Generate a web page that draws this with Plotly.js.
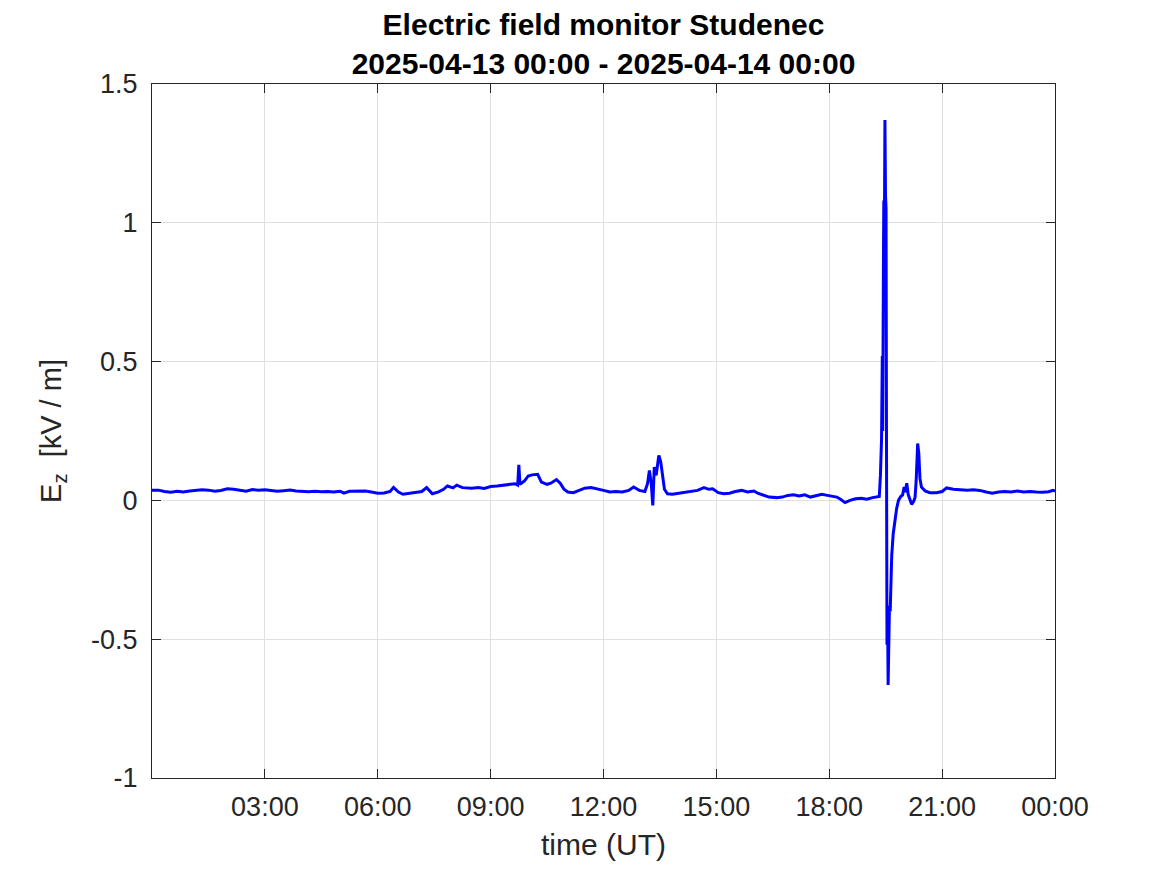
<!DOCTYPE html>
<html>
<head>
<meta charset="utf-8">
<script src="https://cdn.plot.ly/plotly-3.0.1.min.js"></script>
<style>html,body{margin:0;padding:0;background:#fff;}#chart{width:1167px;height:875px;}</style>
</head>
<body>
<div id="chart"></div>
<script>
// Time in hours (UT) since 2025-04-13 00:00
var hours = [
0.0,0.17,0.33,0.5,0.67,0.83,1.0,1.17,1.33,1.5,1.67,1.83,2.0,2.17,2.33,2.5,2.67,2.83,
3.0,3.17,3.33,3.5,3.67,3.83,4.0,4.17,4.33,4.5,4.67,4.83,5.0,5.1,5.25,5.5,5.67,5.83,
6.0,6.17,6.33,6.42,6.55,6.67,6.83,7.0,7.17,7.3,7.45,7.6,7.75,7.85,8.0,8.1,8.25,8.5,8.67,8.83,
9.0,9.17,9.33,9.5,9.65,9.72,9.75,9.78,9.9,10.0,10.1,10.25,10.35,10.5,10.6,10.75,10.85,10.95,
11.05,11.2,11.35,11.5,11.67,11.83,12.0,12.17,12.33,12.5,12.67,12.8,12.95,13.1,13.17,13.22,
13.27,13.31,13.35,13.4,13.47,13.52,13.57,13.62,13.7,13.83,14.0,14.17,14.33,14.5,14.67,14.8,
14.9,15.05,15.2,15.35,15.5,15.67,15.83,16.0,16.1,16.25,16.4,16.6,16.75,16.9,17.05,17.2,17.35,
17.5,17.67,17.8,17.95,18.1,18.2,18.3,18.42,18.55,18.7,18.85,19.0,19.15,19.27,19.33,19.36,
19.39,19.41,19.42,19.44,19.45,19.465,19.48,19.495,19.51,19.52,19.535,19.55,19.565,19.58,19.6,
19.62,19.64,19.66,19.7,19.75,19.79,19.84,19.9,19.95,19.99,20.02,20.06,20.1,20.15,20.19,20.24,
20.28,20.31,20.35,20.38,20.41,20.45,20.55,20.67,20.85,21.0,21.12,21.3,21.5,21.67,21.83,22.0,
22.17,22.33,22.5,22.67,22.83,23.0,23.17,23.33,23.5,23.67,23.83,23.95,24.0
];
// Ez in kV/m
var ez = [
0.037,0.037,0.032,0.029,0.033,0.030,0.034,0.036,0.038,0.037,0.033,0.036,0.042,0.040,0.036,0.033,0.039,0.037,
0.038,0.036,0.033,0.035,0.037,0.034,0.033,0.031,0.033,0.031,0.032,0.030,0.033,0.026,0.033,0.034,0.034,0.030,
0.026,0.027,0.032,0.047,0.030,0.022,0.026,0.030,0.032,0.046,0.024,0.030,0.040,0.052,0.045,0.055,0.046,0.044,0.046,0.043,
0.050,0.052,0.055,0.058,0.060,0.055,0.128,0.058,0.070,0.088,0.092,0.094,0.066,0.058,0.062,0.075,0.062,0.040,
0.030,0.028,0.036,0.044,0.046,0.040,0.036,0.030,0.032,0.030,0.036,0.048,0.036,0.032,0.060,0.108,
0.060,-0.018,0.120,0.090,0.162,0.140,0.080,0.040,0.024,0.022,0.026,0.030,0.034,0.036,0.046,0.040,
0.042,0.028,0.024,0.026,0.032,0.036,0.030,0.034,0.026,0.020,0.012,0.010,0.012,0.018,0.020,0.016,0.020,
0.012,0.018,0.022,0.018,0.016,0.012,0.004,-0.008,0.000,0.006,0.008,0.004,0.010,0.012,0.014,0.09,
0.22,0.52,0.25,0.85,1.08,0.95,1.37,1.10,1.05,0.30,-0.52,-0.40,-0.665,-0.50,-0.38,
-0.40,-0.26,-0.20,-0.12,-0.06,-0.03,0.000,0.014,0.020,0.048,0.030,0.062,0.020,0.000,-0.014,-0.004,
0.010,0.070,0.205,0.170,0.080,0.048,0.034,0.028,0.028,0.032,0.045,0.040,0.038,0.037,0.038,0.036,
0.030,0.026,0.030,0.032,0.030,0.034,0.030,0.032,0.030,0.029,0.031,0.036,0.034
];
var xTickHours = [3,6,9,12,15,18,21,24];
var yTickVals = [-1,-0.5,0,0.5,1,1.5];
var yTickText = ['-1','-0.5','0','0.5','1','1.5'];

var base = Date.UTC(2025,3,13,0,0,0);
function pad(n){return (n<10?'0':'')+n;}
function toStamp(h){
  var d = new Date(base + Math.round(h*3600000));
  return d.getUTCFullYear()+'-'+pad(d.getUTCMonth()+1)+'-'+pad(d.getUTCDate())+' '+
         pad(d.getUTCHours())+':'+pad(d.getUTCMinutes())+':'+pad(d.getUTCSeconds());
}
var x = hours.map(toStamp);
var xTickVals = xTickHours.map(toStamp);

var axisColor = '#262626';
var fontFam = '"Liberation Sans", Arial, Helvetica, sans-serif';

var trace = {
  x: x, y: ez, type: 'scatter', mode: 'lines',
  line: {color: '#0000ff', width: 3},
  hoverinfo: 'skip'
};

var layout = {
  width: 1167, height: 875,
  margin: {l: 152, r: 112, t: 84, b: 97},
  paper_bgcolor: '#ffffff', plot_bgcolor: '#ffffff',
  showlegend: false,
  font: {family: fontFam, color: axisColor, size: 27},
  title: {
    text: '<b>Electric field monitor Studenec</b><br><b>2025-04-13 00:00 - 2025-04-14 00:00</b>',
    font: {family: fontFam, size: 30, color: '#000000'},
    x: 0.5, xref: 'paper', xanchor: 'center',
    y: 1, yref: 'paper', yanchor: 'bottom',
    pad: {b: 49}
  },
  xaxis: {
    type: 'date',
    range: [toStamp(0), toStamp(24)],
    tickmode: 'array', tickvals: xTickVals, tickformat: '%H:%M',
    ticks: 'inside', ticklen: 9, tickwidth: 1, tickcolor: axisColor,
    showline: true, linecolor: axisColor, linewidth: 1, mirror: 'ticks',
    showgrid: true, gridcolor: '#dfdfdf', gridwidth: 1,
    zeroline: false,
    tickfont: {family: fontFam, size: 27, color: axisColor},
    ticklabelstandoff: 5,
    title: {text: 'time (UT)', font: {family: fontFam, size: 30, color: axisColor}, standoff: 12},
    automargin: false
  },
  yaxis: {
    range: [-1, 1.5],
    tickmode: 'array', tickvals: yTickVals, ticktext: yTickText,
    ticks: 'inside', ticklen: 9, tickwidth: 1, tickcolor: axisColor,
    showline: true, linecolor: axisColor, linewidth: 1, mirror: 'ticks',
    showgrid: true, gridcolor: '#dfdfdf', gridwidth: 1,
    zeroline: false,
    tickfont: {family: fontFam, size: 27, color: axisColor},
    ticklabelstandoff: 8,
    title: {text: 'E<sub>z</sub>  [kV / m]', font: {family: fontFam, size: 29, color: axisColor}, standoff: 20},
    automargin: false
  }
};

Plotly.newPlot('chart', [trace], layout, {displayModeBar: false, staticPlot: true});
</script>
</body>
</html>
